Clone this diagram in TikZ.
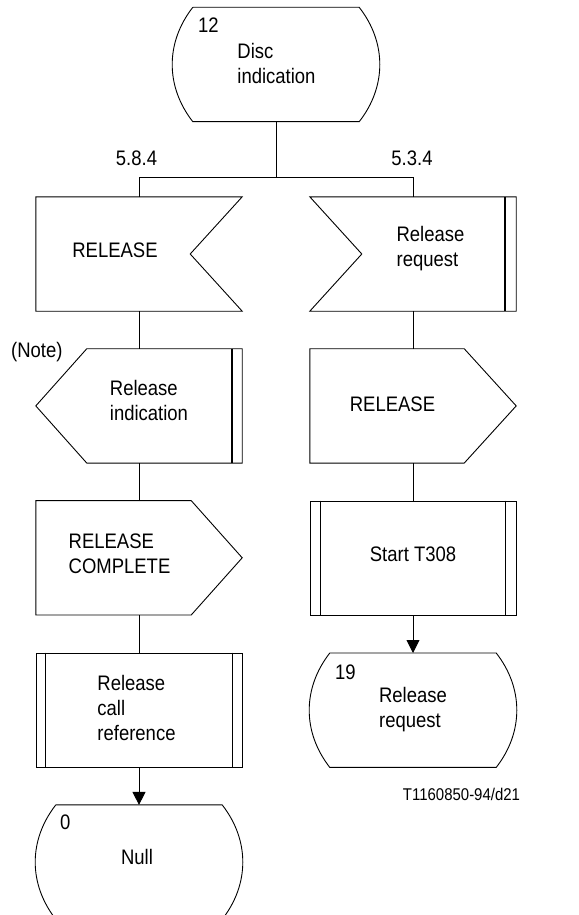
\documentclass[tikz,border=0pt]{standalone}
\usepackage{fontspec}
\setmainfont{Liberation Sans}[FakeStretch=0.88]
\usepackage{tikz}
\usetikzlibrary{arrows.meta, positioning, calc}
\tikzset{
    sdlbox/.style={rectangle, minimum width=206pt, minimum height=114pt,
                   inner sep=0pt},
    sdlproc/.style={sdlbox, draw, line width=0.9pt},
    sdltext/.style={align=left, inner sep=0pt},
    stnum/.style={anchor=west, inner sep=0pt},
    sdlline/.style={line width=0.9pt},
    sdlbar/.style={line width=1.8pt},
    arr/.style={sdlline, -{Triangle[length=13pt, width=13pt]}},
}
\begin{document}
\begin{tikzpicture}[x=1pt, y=1pt, font=\fontsize{21pt}{25pt}\selectfont,
    node distance=37.5pt]
    \useasboundingbox (0,0) rectangle (578,-915);

    % Boxes
    \node[sdlbox] (disc) at (276,-64.5) {};
    \node[sdlbox] (relin) at (139,-254) {};
    \node[sdlbox] (reqin) at (413,-254) {};
    \node[sdlbox, below=of relin] (indout) {};
    \node[sdlbox, below=of indout] (compout) {};
    \node[sdlproc, below=of compout] (callref) {};
    \node[sdlbox, below=of callref] (null) {};
    \node[sdlbox, below=of reqin] (relout) {};
    \node[sdlproc, below=of relout] (timer) {};
    \node[sdlbox, below=of timer] (relreq) {};

    % States
    \draw[sdlline] ([xshift=20pt]disc.north west) -- ([xshift=-20pt]disc.north east)
        to[bend left=38] ([xshift=-20pt]disc.south east)
        -- ([xshift=20pt]disc.south west)
        to[bend left=38] ([xshift=20pt]disc.north west);
    \draw[sdlline] ([xshift=20pt]null.north west) -- ([xshift=-20pt]null.north east)
        to[bend left=38] ([xshift=-20pt]null.south east)
        -- ([xshift=20pt]null.south west)
        to[bend left=38] ([xshift=20pt]null.north west);
    \draw[sdlline] ([xshift=20pt]relreq.north west) -- ([xshift=-20pt]relreq.north east)
        to[bend left=38] ([xshift=-20pt]relreq.south east)
        -- ([xshift=20pt]relreq.south west)
        to[bend left=38] ([xshift=20pt]relreq.north west);

    % Inputs
    \draw[sdlline] (relin.north west) -- (relin.north east)
        -- ([xshift=-52pt]relin.east) -- (relin.south east)
        -- (relin.south west) -- cycle;
    \draw[sdlline] (reqin.north west) -- (reqin.north east)
        -- (reqin.south east) -- (reqin.south west)
        -- ([xshift=52pt]reqin.west) -- cycle;
    \draw[sdlbar] ([xshift=-11pt]reqin.north east) -- ([xshift=-11pt]reqin.south east);

    % Outputs
    \draw[sdlline] ([xshift=51pt]indout.north west) -- (indout.north east)
        -- (indout.south east) -- ([xshift=51pt]indout.south west)
        -- (indout.west) -- cycle;
    \draw[sdlbar] ([xshift=-10pt]indout.north east) -- ([xshift=-10pt]indout.south east);
    \draw[sdlline] (compout.north west) -- ([xshift=-51pt]compout.north east)
        -- (compout.east) -- ([xshift=-51pt]compout.south east)
        -- (compout.south west) -- cycle;
    \draw[sdlline] (relout.north west) -- ([xshift=-52pt]relout.north east)
        -- (relout.east) -- ([xshift=-52pt]relout.south east)
        -- (relout.south west) -- cycle;

    % Procedure bars
    \draw[sdlbar] ([xshift=10pt]callref.north west) -- ([xshift=10pt]callref.south west);
    \draw[sdlbar] ([xshift=-10pt]callref.north east) -- ([xshift=-10pt]callref.south east);
    \draw[sdlbar] ([xshift=11pt]timer.north west) -- ([xshift=11pt]timer.south west);
    \draw[sdlbar] ([xshift=-11pt]timer.north east) -- ([xshift=-11pt]timer.south east);

    % Texts
    \node[sdltext] (disc-t) at ($(disc)+(0.5,1)$) {Disc\\indication};
    \node[sdltext] (relin-t) at ($(relin)+(-24,3.5)$) {RELEASE};
    \node[sdltext] (reqin-t) at ($(reqin)+(17.5,5)$) {Release\\request};
    \node[sdltext] (indout-t) at ($(indout)+(10,5)$) {Release\\indication};
    \node[sdltext] (compout-t) at ($(compout)+(-19.5,4.5)$) {RELEASE\\COMPLETE};
    \node[sdltext] (relout-t) at ($(relout)+(-20.5,2)$) {RELEASE};
    \node[sdltext] (timer-t) at ($(timer)+(0,4)$) {Start T308};
    \node[sdltext] (callref-t) at ($(callref)+(-2.5,1.5)$) {Release\\call\\reference};
    \node[sdltext] (relreq-t) at ($(relreq)+(0,1)$) {Release\\request};
    \node[sdltext] (null-t) at ($(null)+(-2,5)$) {Null};

    % State numbers
    \node[stnum] (disc-n) at ($(disc.north west)+(25,-18)$) {12};
    \node[stnum] (relreq-n) at ($(relreq.north west)+(25,-19)$) {19};
    \node[stnum] (null-n) at ($(null.north west)+(24,-17)$) {0};

    % Labels
    \node[inner sep=0pt] (relin-l) at ($(relin.north)+(-2.5,39)$) {5.8.4};
    \node[inner sep=0pt] (reqin-l) at ($(reqin.north)+(-1,39)$) {5.3.4};
    \node[inner sep=0pt] (note) at ($(indout.north west)+(1,-3.5)$) {(Note)};
    \node[inner sep=0pt, anchor=east, font=\fontsize{17pt}{20pt}\selectfont]
        (figid) at ($(relreq.south east)+(4,-27)$) {T1160850-94/d21};

    % Connections
    \coordinate (fork) at ($(disc.south)+(0,-56)$);
    \draw[sdlline] (disc.south) -- (fork);
    \draw[sdlline] (relin.north) |- (fork) -| (reqin.north);
    \draw[sdlline] (relin.south) -- (indout.north);
    \draw[sdlline] (indout.south) -- (compout.north);
    \draw[sdlline] (compout.south) -- (callref.north);
    \draw[arr] (callref.south) -- (null.north);
    \draw[sdlline] (reqin.south) -- (relout.north);
    \draw[sdlline] (relout.south) -- (timer.north);
    \draw[arr] (timer.south) -- (relreq.north);
\end{tikzpicture}
\end{document}
